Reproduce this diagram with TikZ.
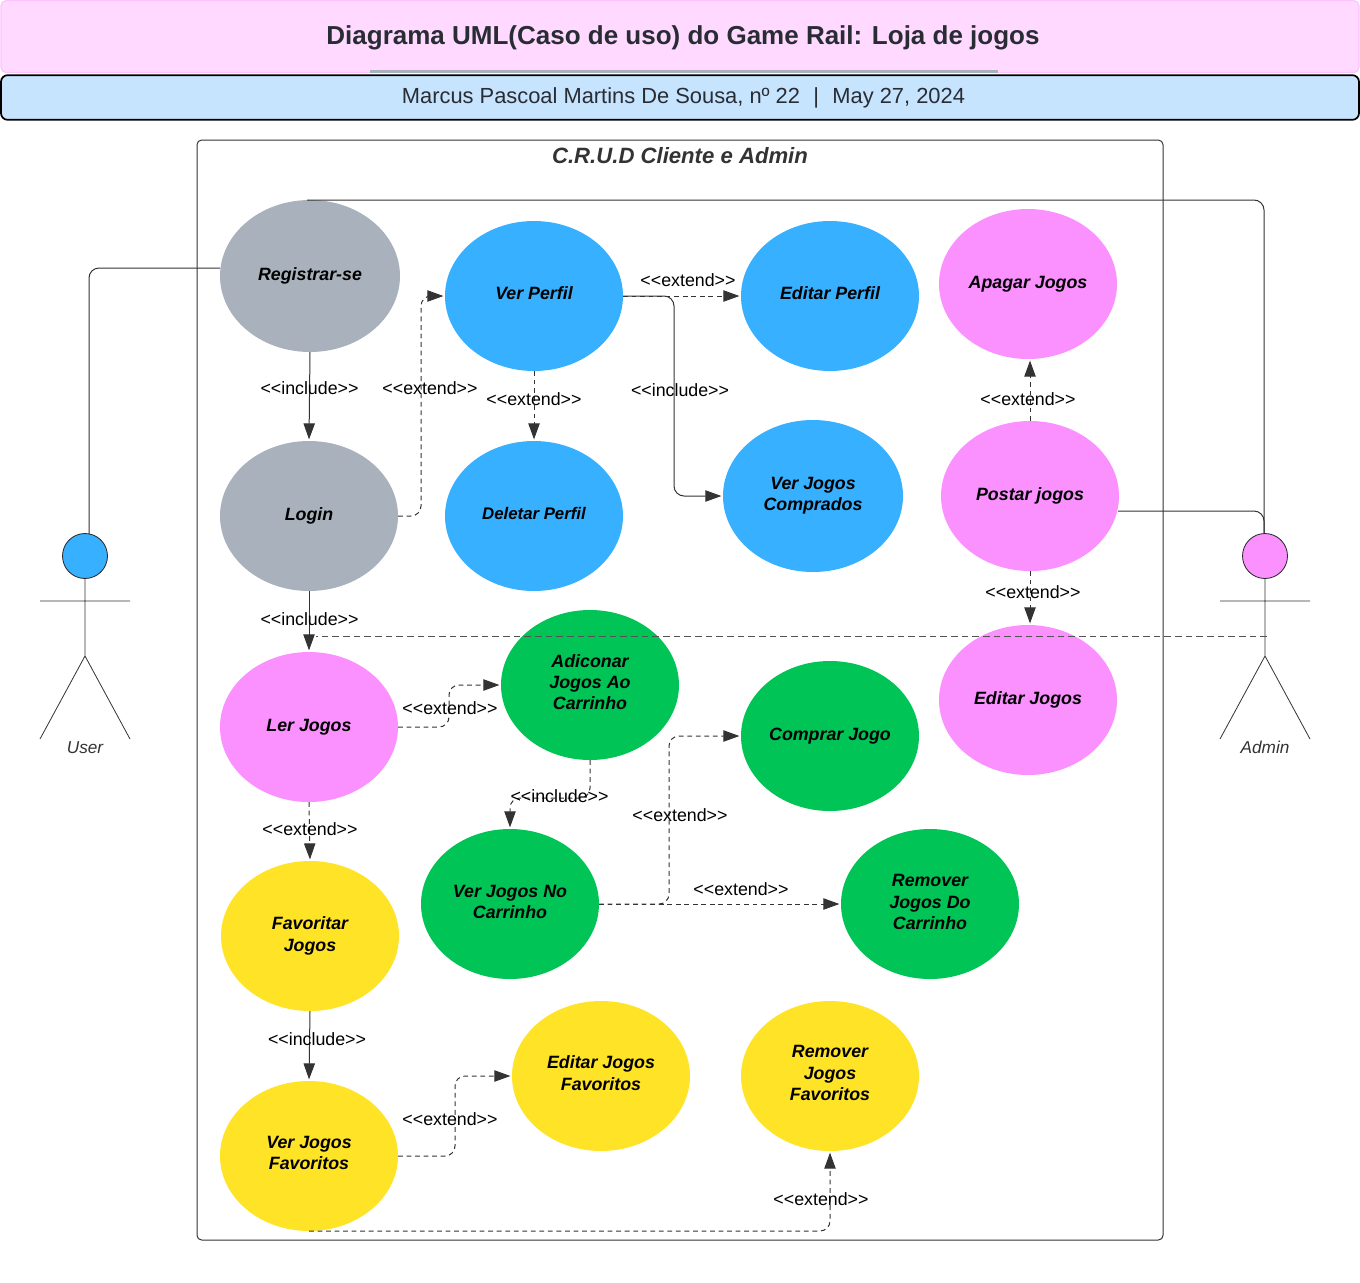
\documentclass[tikz,border=0pt]{standalone}
\usepackage{fontspec}
\setmainfont{Liberation Sans}
\usetikzlibrary{shapes.geometric,arrows.meta,calc}
\definecolor{greyuc}{HTML}{A9B2BC}
\definecolor{blueuc}{HTML}{36B0FF}
\definecolor{pinkuc}{HTML}{FA91FF}
\definecolor{greenuc}{HTML}{00C455}
\definecolor{yellowuc}{HTML}{FFE326}
\definecolor{inkuc}{HTML}{333333}
\definecolor{bannerpink}{HTML}{FFD9FF}
\definecolor{bannerblue}{HTML}{C7E4FF}
\definecolor{titleink}{HTML}{282C33}
\newcommand{\inc}{<{}<include>{}>}
\newcommand{\ext}{<{}<extend>{}>}
% extra depth under the text: raises the text by half of it inside its ellipse
\newcommand{\lift}[1]{\rule[-#1]{0pt}{#1}}
\tikzset{
  uc/.style={ellipse,inner sep=0pt,outer sep=0pt,minimum width=133.5pt,minimum height=112.5pt,align=center,
    font=\fontsize{13.35pt}{15.9pt}\selectfont\bfseries\itshape,text=black},
  tagtext/.style={inner sep=0pt,font=\fontsize{13.35pt}{15pt}\selectfont,text=black},
  conn/.style={draw=inkuc,line width=0.75pt,rounded corners=7.5pt,shorten >=1.2pt,-{Triangle[length=12pt,width=8.5pt]}},
  dconn/.style={conn,dash pattern=on 3.6pt off 2.8pt},
  plain/.style={draw=inkuc,line width=0.75pt,rounded corners=7.5pt},
  limb/.style={draw=inkuc,line width=0.6pt},
  head/.style={circle,draw=black!85,line width=0.6pt,inner sep=0pt,outer sep=0pt,minimum size=33.75pt},
  actorname/.style={inner sep=0pt,font=\fontsize{12.9pt}{15pt}\selectfont\itshape,text=inkuc},
}
\begin{document}
\begin{tikzpicture}[x=0.75pt,y=-0.75pt]
\useasboundingbox (0,0) rectangle (1360,1282);
% banners
\node[draw=pinkuc!55,fill=bannerpink,line width=0.9pt,rounded corners=4pt,minimum width=1018.5pt,minimum height=54pt,inner sep=0pt] (banner) at (680,36.5) {};
\node[font=\fontsize{19.5pt}{23pt}\selectfont\bfseries,text=titleink,inner sep=0pt] (title) at (683,38) {Diagrama UML(Caso de uso) do Game Rail: Loja de jogos};
\coordinate (ruleL) at (370,71.5);
\coordinate (ruleR) at (998,71.5);
\draw[draw=greyuc,line width=1.6pt] (ruleL) -- (ruleR);
\node[draw=black,fill=bannerblue,line width=1.3pt,rounded corners=5pt,minimum width=1018.5pt,minimum height=33.5pt,inner sep=0pt] (subbanner) at (680,97.5) {};
\node[font=\fontsize{16.4pt}{19pt}\selectfont,text=titleink,inner sep=0pt] (subtitle) at (683.5,98) {Marcus Pascoal Martins De Sousa, nº 22\,\ \,|\,\ \,May 27, 2024};
% frame
\node[draw=inkuc,line width=0.75pt,rounded corners=3.5pt,minimum width=724.5pt,minimum height=825pt,inner sep=0pt] (frame) at (680,690) {};
\node[font=\fontsize{16.6pt}{19pt}\selectfont\bfseries\itshape,text=inkuc,inner sep=0pt] (frametitle) at (680,156) {C.R.U.D Cliente e Admin};
% use cases
\node[uc,fill=greyuc,minimum width=135pt,minimum height=114pt] (reg) at (310,276) {Registrar-se\lift{1.5pt}};
\node[uc,fill=greyuc] (login) at (309,516) {Login\lift{1.5pt}};
\node[uc,fill=blueuc] (ver) at (534,296) {Ver Perfil\lift{4.5pt}};
\node[uc,fill=blueuc,font=\fontsize{12.6pt}{15.9pt}\selectfont\bfseries\itshape] (del) at (534,516) {Deletar Perfil\lift{4.5pt}};
\node[uc,fill=blueuc] (edp) at (830,296) {Editar Perfil\lift{4.5pt}};
\node[uc,fill=blueuc,minimum width=135pt,minimum height=114pt] (comp) at (813,496) {Ver Jogos\\Comprados};
\node[uc,fill=pinkuc] (apa) at (1028,284) {Apagar Jogos};
\node[uc,fill=pinkuc] (pos) at (1030,496) {Postar jogos\lift{1.5pt}};
\node[uc,fill=pinkuc] (edj) at (1028,700) {Editar Jogos};
\node[uc,fill=pinkuc] (ler) at (309,727) {Ler Jogos};
\node[uc,fill=greenuc] (adi) at (590,685) {Adiconar\\Jogos Ao\\Carrinho\lift{4.5pt}};
\node[uc,fill=greenuc] (cpr) at (830,736) {Comprar Jogo\lift{1.5pt}};
\node[uc,fill=greenuc] (car) at (510,904) {Ver Jogos No\\Carrinho\lift{3pt}};
\node[uc,fill=greenuc] (rmc) at (930,904) {Remover\\Jogos Do\\Carrinho\lift{3pt}};
\node[uc,fill=yellowuc] (fav) at (310,936) {Favoritar\\Jogos\lift{3pt}};
\node[uc,fill=yellowuc] (vfv) at (309,1156) {Ver Jogos\\Favoritos\lift{4.5pt}};
\node[uc,fill=yellowuc] (efv) at (601,1076) {Editar Jogos\\Favoritos\lift{4.5pt}};
\node[uc,fill=yellowuc] (rfv) at (830,1076) {Remover\\Jogos\\Favoritos\lift{4.5pt}};
% actors
\node[head,fill=blueuc] (uhead) at (85,556) {};
\coordinate (uarmL) at (40,601); \coordinate (uarmR) at (130,601);
\coordinate (uhip) at (85,656);
\coordinate (ulegL) at (40,739); \coordinate (ulegR) at (130,739);
\draw[limb] (uhead.south) -- (uhip) (uarmL) -- (uarmR) (ulegL) -- (uhip) -- (ulegR);
\node[actorname] (uname) at (85,747.5) {User};
\node[head,fill=pinkuc] (ahead) at (1265,556) {};
\coordinate (aarmL) at (1220,601); \coordinate (aarmR) at (1310,601);
\coordinate (ahip) at (1265,656);
\coordinate (alegL) at (1220,739); \coordinate (alegR) at (1310,739);
\draw[limb] (ahead.south) -- (ahip) (aarmL) -- (aarmR) (alegL) -- (ahip) -- (alegR);
\node[actorname] (aname) at (1265,747.5) {Admin};
% actor links
\coordinate (utop) at (89,534);
\coordinate (regw) at (220,268);
\draw[plain] (regw) -| (utop);
\coordinate (regn) at (307,200);
\coordinate (atop) at (1264,533);
\draw[plain] (regn) -| (atop);
\coordinate (posr) at (1118,511);
\draw[plain] (posr) -| (atop);
\coordinate (awaist) at (1267,636);
\coordinate (lerjoin) at (316,636);
\draw[plain,draw=inkuc!85,dash pattern=on 5pt off 3pt,rounded corners=0pt] (awaist) -- (lerjoin);
% connectors
\draw[conn] (reg.south) -- (login.north);
\draw[dconn] (login.east) -- ++(23,0) |- (ver.west);
\draw[dconn] (ver.east) -- (edp.west);
\draw[conn] (ver.east) -- ++(51,0) |- (comp.west);
\draw[dconn] (ver.south) -- (del.north);
\draw[dconn] (pos.north) -- (apa.south -| pos.north);
\draw[dconn] (pos.south) -- (edj.north -| pos.south);
\draw[conn] (login.south) -- (ler.north);
\draw[dconn] (ler.east) -- ++(51,0) |- (adi.west);
\draw[dconn] (ler.south) -- (fav.north);
\draw[dconn] (adi.south) -- ++(0,38) -| (car.north);
\draw[dconn] (car.east) -- ++(70,0) |- (cpr.west);
\draw[dconn] (car.east) -- (rmc.west);
\draw[conn] (fav.south) -- (vfv.north);
\draw[dconn] (vfv.east) -- ++(57,0) |- (efv.west);
\draw[dconn] (vfv.south) -| (rfv.south);
% tags
\node[tagtext] (t1) at (309.5,388) {\inc};
\node[tagtext] (t2) at (430,388) {\ext};
\node[tagtext] (t3) at (534,399) {\ext};
\node[tagtext] (t4) at (688,280) {\ext};
\node[tagtext] (t5) at (680,390) {\inc};
\node[tagtext] (t6) at (1028,399) {\ext};
\node[tagtext] (t7) at (1033,592) {\ext};
\node[tagtext] (t8) at (309.5,619) {\inc};
\node[tagtext] (t9) at (450,708) {\ext};
\node[tagtext] (t10) at (559.5,796) {\inc};
\node[tagtext] (t11) at (310,829) {\ext};
\node[tagtext] (t12) at (680,815) {\ext};
\node[tagtext] (t13) at (741,889) {\ext};
\node[tagtext] (t14) at (317,1039) {\inc};
\node[tagtext] (t15) at (450,1119) {\ext};
\node[tagtext] (t16) at (821,1199) {\ext};
\end{tikzpicture}
\end{document}
